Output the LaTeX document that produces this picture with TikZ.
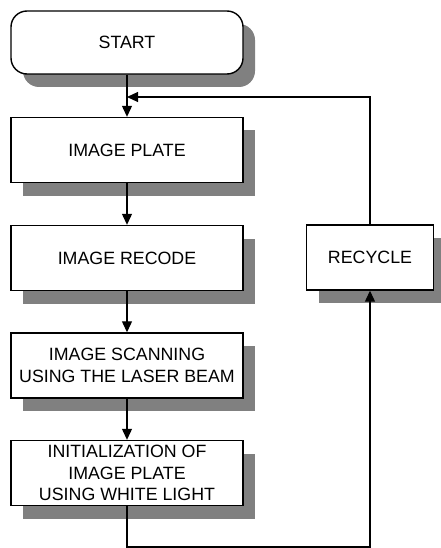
\documentclass[tikz,border=0pt]{standalone}
\usepackage{fontspec}
\setmainfont{Liberation Sans}
\usetikzlibrary{shadows,arrows.meta}
\definecolor{shadowgray}{HTML}{808080}
\begin{document}
\begin{tikzpicture}[x=1pt,y=-1pt,
  box/.style={draw, line width=1.4pt, fill=white, inner sep=0pt, align=center,
    minimum width=232pt, minimum height=65pt,
    font=\fontsize{17.8}{21.5}\selectfont,
    drop shadow={shadow xshift=12pt, shadow yshift=-13pt, fill=shadowgray, opacity=1}},
  startbox/.style={box, rounded corners=16pt, minimum height=63pt},
  link/.style={line width=1.2pt, -{Triangle[length=11pt,width=10pt]}}]
\useasboundingbox (0,0) rectangle (440,548);

% process steps
\node[startbox] (start)   at (127,42.5) {START};
\node[box]      (plate)   at (127,150)  {IMAGE PLATE};
\node[box]      (recode)  at (127,258)  {IMAGE RECODE};
\node[box]      (scan)    at (127,365.5) {IMAGE SCANNING\\USING THE LASER BEAM};
\node[box]      (init)    at (127,473)  {INITIALIZATION OF\\IMAGE PLATE\\USING WHITE LIGHT};
\node[box, minimum width=127pt] (recycle) at (370,257.5) {RECYCLE};

% corner points of the return loop
\coordinate (looptop) at (370,97);
\coordinate (joint)   at (127,97);
\coordinate (loopbot) at (127,547);

% main flow
\draw[link] (start) -- (plate);
\draw[link] (plate) -- (recode);
\draw[link] (recode) -- (scan);
\draw[link] (scan) -- (init);

% recycling loop
\draw[link] (init.south) -- (loopbot) -| (recycle.south);
\draw[link] (recycle.north) -- (looptop) -- (joint);
\end{tikzpicture}
\end{document}
